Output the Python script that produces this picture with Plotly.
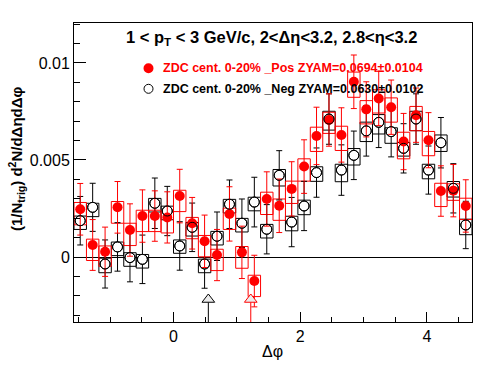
import numpy as np
import plotly.graph_objects as go

# ---------------- data ----------------
n_bins = 32
dphi_lo, dphi_hi = -np.pi / 2, 3 * np.pi / 2
bin_w = (dphi_hi - dphi_lo) / n_bins
dphi = [dphi_lo + (i + 0.5) * bin_w for i in range(n_bins)]

pos_vals = [0.00246, 0.00062, 0.00027, 0.00256, 0.00139, 0.00211, 0.00211, 0.00204,
            0.00314, 0.00174, 0.00081, 0.00010, 0.00222, 0.00024, -0.00124, 0.00299,
            0.00264, 0.00351, 0.00466, 0.00624, 0.00706, 0.00629, 0.00903, 0.00761,
            0.00817, 0.00772, 0.00595, 0.00731, 0.00602, 0.00340, 0.00342, 0.00263]
pos_stat = [0.00133, 0.00131, 0.00127, 0.00133, 0.00135, 0.00135, 0.00130, 0.00132,
            0.00138, 0.00133, 0.00135, 0.00132, 0.00140, 0.00135, 0.00133, 0.00140,
            0.00138, 0.00140, 0.00138, 0.00148, 0.00135, 0.00140, 0.00138, 0.00142,
            0.00140, 0.00140, 0.00145, 0.00140, 0.00142, 0.00130, 0.00135, 0.00135]
pos_sys_up = [0.00035, 0.00030, 0.00030, 0.00030, 0.00035, 0.00030, 0.00030, 0.00030,
              0.00030, 0.00030, 0.00030, 0.00030, 0.00030, 0.00030, 0.00030, 0.00035,
              0.00035, 0.00040, 0.00040, 0.00045, 0.00040, 0.00045, 0.00050, 0.00045,
              0.00045, 0.00048, 0.00048, 0.00045, 0.00045, 0.00040, 0.00035, 0.00040]
pos_sys_dn = [0.00080, 0.00080, 0.00075, 0.00082, 0.00080, 0.00080, 0.00080, 0.00080,
              0.00080, 0.00080, 0.00080, 0.00080, 0.00080, 0.00082, 0.00080, 0.00080,
              0.00075, 0.00075, 0.00075, 0.00080, 0.00069, 0.00080, 0.00080, 0.00075,
              0.00075, 0.00077, 0.00089, 0.00080, 0.00080, 0.00080, 0.00050, 0.00070]

neg_vals = [0.00187, 0.00256, -0.00036, 0.00052, -0.00003, -0.00012, 0.00277, 0.00237,
            0.00057, 0.00153, -0.00036, 0.00107, 0.00272, 0.00174, 0.00283, 0.00143,
            0.00421, 0.00180, 0.00263, 0.00435, 0.00711, 0.00448, 0.00524, 0.00650,
            0.00694, 0.00646, 0.00560, 0.00711, 0.00448, 0.00589, 0.00354, 0.00165]
neg_stat = [0.00125, 0.00124, 0.00124, 0.00125, 0.00125, 0.00125, 0.00130, 0.00127,
            0.00125, 0.00125, 0.00125, 0.00125, 0.00125, 0.00125, 0.00128, 0.00127,
            0.00127, 0.00127, 0.00127, 0.00127, 0.00130, 0.00130, 0.00125, 0.00130,
            0.00130, 0.00130, 0.00127, 0.00130, 0.00124, 0.00130, 0.00127, 0.00122]
neg_sys_up = [0.00024, 0.00021, 0.00030, 0.00025, 0.00025, 0.00025, 0.00025, 0.00025,
              0.00031, 0.00025, 0.00025, 0.00025, 0.00025, 0.00025, 0.00025, 0.00025,
              0.00030, 0.00030, 0.00030, 0.00030, 0.00040, 0.00030, 0.00035, 0.00045,
              0.00040, 0.00020, 0.00030, 0.00040, 0.00030, 0.00040, 0.00035, 0.00030]
neg_sys_dn = [0.00045, 0.00048, 0.00045, 0.00045, 0.00045, 0.00045, 0.00045, 0.00045,
              0.00038, 0.00045, 0.00045, 0.00045, 0.00045, 0.00045, 0.00045, 0.00045,
              0.00055, 0.00045, 0.00045, 0.00045, 0.00057, 0.00060, 0.00050, 0.00055,
              0.00060, 0.00060, 0.00040, 0.00060, 0.00045, 0.00045, 0.00045, 0.00050]

# ZYAM minimum markers
zyam_x_neg = 0.55
zyam_x_pos = 1.22
zyam_marker_y = -0.00219
zyam_line_top = -0.00234

title_text = "<b>1 < p<sub>T</sub> < 3 GeV/c, 2<Δη<3.2, 2.8<η<3.2</b>"
pos_label = "<b>ZDC cent. 0-20% _Pos ZYAM=0.0694±0.0104</b>"
neg_label = "<b>ZDC cent. 0-20% _Neg ZYAM=0.0630±0.0102</b>"
ytitle = "<b>(1/N<sub>trig</sub>) d<sup>2</sup>N/dΔηdΔφ</b>"
xtitle = "Δφ"

y_lo, y_hi = -0.00335, 0.01206
y_tickvals = [0, 0.005, 0.01]
y_ticktext = ["0", "0.005", "0.01"]
x_tickvals = [0, 2, 4]
x_ticktext = ["0", "2", "4"]

FONT = "Liberation Sans, Arial, Helvetica, sans-serif"
RED = "#ff0000"
BLACK = "#000000"


def boxes(xc, vals, up, dn):
    xs, ys = [], []
    for x, v, u, d in zip(xc, vals, up, dn):
        x0, x1 = x - bin_w / 2, x + bin_w / 2
        xs += [x0, x1, x1, x0, x0, None]
        ys += [v - d, v - d, v + u, v + u, v - d, None]
    return xs, ys


fig = go.Figure()

# black systematic boxes
bx, by = boxes(dphi, neg_vals, neg_sys_up, neg_sys_dn)
fig.add_trace(go.Scatter(x=bx, y=by, mode="lines", line=dict(color=BLACK, width=1),
                         hoverinfo="skip", showlegend=False))
# red systematic boxes
rx, ry = boxes(dphi, pos_vals, pos_sys_up, pos_sys_dn)
fig.add_trace(go.Scatter(x=rx, y=ry, mode="lines", line=dict(color=RED, width=1),
                         hoverinfo="skip", showlegend=False))

# black points with stat errors (white-filled to hide error line inside)
fig.add_trace(go.Scatter(
    x=dphi, y=neg_vals, mode="markers",
    marker=dict(symbol="circle", size=10, color="white", line=dict(color=BLACK, width=1)),
    error_y=dict(type="data", array=neg_stat, color=BLACK, thickness=1, width=3),
    showlegend=False))

# red points with stat errors
fig.add_trace(go.Scatter(
    x=dphi, y=pos_vals, mode="markers",
    marker=dict(symbol="circle", size=10, color=RED, line=dict(width=0)),
    error_y=dict(type="data", array=pos_stat, color=RED, thickness=1, width=3),
    showlegend=False))

# black open rings on top
fig.add_trace(go.Scatter(
    x=dphi, y=neg_vals, mode="markers",
    marker=dict(symbol="circle-open", size=10, color=BLACK, line=dict(color=BLACK, width=1)),
    showlegend=False))

# ZYAM arrows
for xz, col in [(zyam_x_neg, BLACK), (zyam_x_pos, RED)]:
    fig.add_trace(go.Scatter(x=[xz, xz], y=[zyam_line_top, y_lo - 0.001], mode="lines",
                             line=dict(color=col, width=1), showlegend=False, hoverinfo="skip"))
    fig.add_trace(go.Scatter(x=[xz], y=[zyam_marker_y], mode="markers",
                             marker=dict(symbol="triangle-up", size=11, color="#ececec",
                                         line=dict(color=col, width=1)),
                             showlegend=False))

W, H = 496, 374
ml, mr, mt, mb = 74, 24, 23, 52
pw, ph = W - ml - mr, H - mt - mb


def px(x):
    return (x - ml) / pw


def py(y):
    return (H - mb - y) / ph


annotations = [
    dict(text=title_text, x=px(271), y=py(38), xref="paper", yref="paper",
         xanchor="center", yanchor="middle", showarrow=False,
         font=dict(family=FONT, size=16.5, color=BLACK)),
    dict(text=pos_label, x=px(160.5), y=py(68.3), xref="paper", yref="paper",
         xanchor="left", yanchor="middle", showarrow=False,
         font=dict(family=FONT, size=12.5, color=RED)),
    dict(text=neg_label, x=px(160.5), y=py(88.8), xref="paper", yref="paper",
         xanchor="left", yanchor="middle", showarrow=False,
         font=dict(family=FONT, size=12.5, color=BLACK)),
    dict(text=ytitle, x=px(16), y=py(159), xref="paper", yref="paper",
         xanchor="center", yanchor="middle", showarrow=False, textangle=-90,
         font=dict(family=FONT, size=15, color=BLACK)),
    dict(text=xtitle, x=px(272), y=py(351), xref="paper", yref="paper",
         xanchor="center", yanchor="middle", showarrow=False,
         font=dict(family=FONT, size=16, color=BLACK)),
]

shapes = [
    dict(type="circle", xref="paper", yref="paper", xsizemode="pixel", ysizemode="pixel",
         xanchor=px(148.5), yanchor=py(68.3), x0=-5, x1=5, y0=-5, y1=5,
         fillcolor=RED, line=dict(width=0)),
    dict(type="circle", xref="paper", yref="paper", xsizemode="pixel", ysizemode="pixel",
         xanchor=px(148.5), yanchor=py(88.8), x0=-4.5, x1=4.5, y0=-4.5, y1=4.5,
         fillcolor="white", line=dict(width=1, color=BLACK)),
]

fig.update_layout(
    width=W, height=H,
    margin=dict(l=ml, r=mr, t=mt, b=mb, pad=0),
    paper_bgcolor="white", plot_bgcolor="white",
    showlegend=False,
    font=dict(family=FONT, color=BLACK),
    annotations=annotations,
    shapes=shapes,
    xaxis=dict(range=[dphi_lo, dphi_hi], showgrid=False, zeroline=False,
               showline=True, linecolor=BLACK, linewidth=1, mirror=True,
               ticks="inside", ticklen=10, tickwidth=1, tickcolor=BLACK,
               tickvals=x_tickvals, ticktext=x_ticktext,
               tickfont=dict(family=FONT, size=16, color=BLACK),
               minor=dict(ticks="inside", ticklen=5, dtick=0.5, tick0=0,
                          tickcolor=BLACK, showgrid=False)),
    yaxis=dict(range=[y_lo, y_hi], showgrid=False,
               zeroline=True, zerolinecolor=BLACK, zerolinewidth=1,
               showline=True, linecolor=BLACK, linewidth=1, mirror=True,
               ticks="inside", ticklen=12, tickwidth=1, tickcolor=BLACK,
               tickvals=y_tickvals, ticktext=y_ticktext,
               tickfont=dict(family=FONT, size=16, color=BLACK),
               minor=dict(ticks="inside", ticklen=6, dtick=0.001, tick0=0,
                          tickcolor=BLACK, showgrid=False)),
)

fig.write_html("out.html", config={"displayModeBar": False},
               post_script="document.body.style.margin='0';document.body.style.overflow='hidden';")
